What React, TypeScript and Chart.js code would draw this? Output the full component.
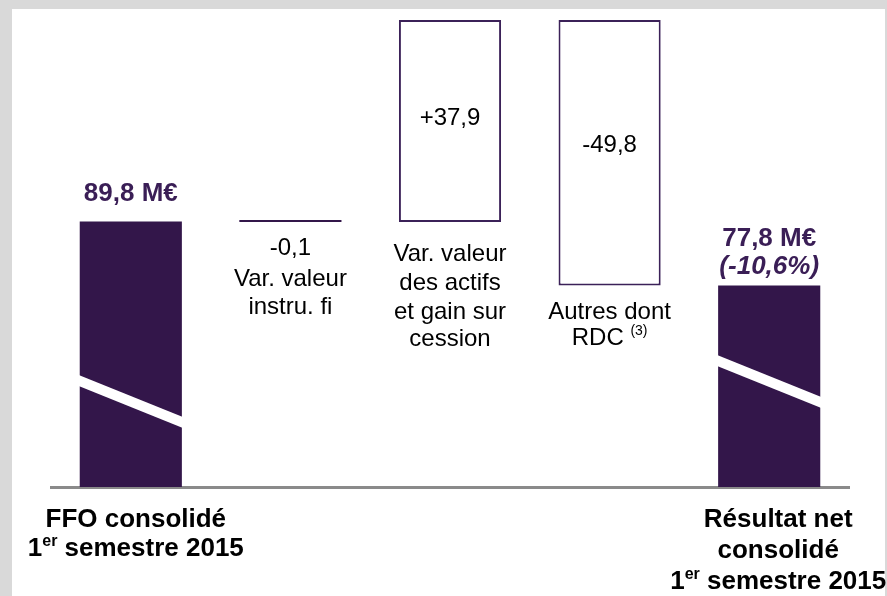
import React, { useEffect, useRef } from "react";
import { Chart, registerables } from "chart.js";

Chart.register(...registerables);

// ---------- data ----------
const categories = [
  "FFO consolidé 1er semestre 2015",
  "Var. valeur instru. fi",
  "Var. valeur des actifs et gain sur cession",
  "Autres dont RDC (3)",
  "Résultat net consolidé 1er semestre 2015",
];
const steps = [89.8, -0.1, 37.9, -49.8, 77.8];
const isTotal = [true, false, false, false, true];
const valueLabels = ["89,8 M€", "-0,1", "+37,9", "-49,8", "77,8 M€"];
const valueNotes = ["", "", "", "", "(-10,6%)"];
const categoryLines = [
  ["FFO consolidé", "1^{er} semestre 2015"],
  ["Var. valeur", "instru. fi"],
  ["Var. valeur", "des actifs", "et gain sur", "cession"],
  ["Autres dont", "RDC ^{(3)}"],
  ["Résultat net", "consolidé", "1^{er} semestre 2015"],
];
const axisMin = 40;
const axisMax = 130;

// ---------- styles ----------
const FAMILY = "'Liberation Sans', Arial, sans-serif";
const PURPLE = "#33164a";
const PURPLE_TEXT = "#3a1e56";
const BORDER = "#3b2158";
const TEXT_SHIFT = 2;

// label placement (pixel offsets relative to the bar geometry)
const valueLayout = [
  { anchor: "top", dy: -30, bold: true, size: 26, color: PURPLE_TEXT },
  { anchor: "top", dy: 26, bold: false, size: 24, color: "#000" },
  { anchor: "top", dy: 96, bold: false, size: 24, color: "#000" },
  { anchor: "top", dy: 123, bold: false, size: 24, color: "#000" },
  { anchor: "top", dy: -49, bold: true, size: 26, color: PURPLE_TEXT },
];
const categoryLayout = [
  { anchor: "axis", ys: [31, 60], dx: 5, bold: true, size: 26 },
  { anchor: "bottom", ys: [55, 83], dx: 0, bold: false, size: 24 },
  { anchor: "bottom", ys: [30, 59, 88, 115], dx: 0, bold: false, size: 24 },
  { anchor: "bottom", ys: [25, 51], dx: 0, bold: false, size: 24 },
  { anchor: "axis", ys: [31, 62, 93], dx: 9, bold: true, size: 26 },
];
const breakMarks = [
  { index: 0, left: 112, right: 70, thickness: 11 },
  { index: 4, left: 132, right: 90, thickness: 11 },
];

// ---------- helpers ----------
function buildRanges(): [number, number][] {
  let run = 0;
  return steps.map((v, i) => {
    if (isTotal[i]) {
      run = v;
      return [0, v] as [number, number];
    }
    const start = run;
    run = Math.round((run + v) * 10) / 10;
    return [Math.min(start, run), Math.max(start, run)] as [number, number];
  });
}

function fontStr(size: number, bold: boolean, italic = false) {
  return `${italic ? "italic " : ""}${bold ? "bold " : ""}${size}px ${FAMILY}`;
}

function parseRich(text: string) {
  const parts: { t: string; sup: boolean }[] = [];
  const re = /\^\{([^}]*)\}/g;
  let last = 0;
  let m: RegExpExecArray | null;
  while ((m = re.exec(text))) {
    if (m.index > last) parts.push({ t: text.slice(last, m.index), sup: false });
    parts.push({ t: m[1], sup: true });
    last = m.index + m[0].length;
  }
  if (last < text.length) parts.push({ t: text.slice(last), sup: false });
  return parts;
}

function drawRich(
  ctx: CanvasRenderingContext2D,
  text: string,
  cx: number,
  cy: number,
  size: number,
  bold: boolean,
  color: string,
  italic = false
) {
  const parts = parseRich(text);
  const supSize = Math.round(size * 0.6);
  let total = 0;
  const widths = parts.map((p) => {
    ctx.font = p.sup ? fontStr(supSize, bold && !p.t.startsWith("("), italic) : fontStr(size, bold, italic);
    const w = ctx.measureText(p.t).width;
    total += w;
    return w;
  });
  let x = cx - total / 2;
  const y = cy + TEXT_SHIFT;
  ctx.fillStyle = color;
  ctx.textAlign = "left";
  ctx.textBaseline = "middle";
  parts.forEach((p, i) => {
    if (p.sup) {
      ctx.font = fontStr(supSize, bold && !p.t.startsWith("("), italic);
      ctx.fillText(p.t, x, y - size * 0.3);
    } else {
      ctx.font = fontStr(size, bold, italic);
      ctx.fillText(p.t, x, y);
    }
    x += widths[i];
  });
}

const breakPlugin = {
  id: "breakMarks",
  afterDatasetsDraw(chart: any) {
    const ctx = chart.ctx as CanvasRenderingContext2D;
    const meta = chart.getDatasetMeta(0);
    const bottom = chart.chartArea.bottom;
    ctx.save();
    ctx.fillStyle = "#ffffff";
    breakMarks.forEach((b) => {
      const el = meta.data[b.index];
      if (!el) return;
      const l = el.x - el.width / 2 - 1;
      const r = el.x + el.width / 2 + 1;
      ctx.beginPath();
      ctx.moveTo(l, bottom - b.left);
      ctx.lineTo(r, bottom - b.right);
      ctx.lineTo(r, bottom - b.right + b.thickness);
      ctx.lineTo(l, bottom - b.left + b.thickness);
      ctx.closePath();
      ctx.fill();
    });
    ctx.restore();
  },
};

const labelPlugin = {
  id: "waterfallLabels",
  afterDraw(chart: any) {
    const ctx = chart.ctx as CanvasRenderingContext2D;
    const meta = chart.getDatasetMeta(0);
    const area = chart.chartArea;
    ctx.save();
    meta.data.forEach((el: any, i: number) => {
      const top = Math.min(el.y, el.base);
      const bot = Math.min(Math.max(el.y, el.base), area.bottom);
      const vl = valueLayout[i];
      const vy = (vl.anchor === "top" ? top : bot) + vl.dy;
      drawRich(ctx, valueLabels[i], el.x, vy, vl.size, vl.bold, vl.color);
      if (valueNotes[i]) {
        drawRich(ctx, valueNotes[i], el.x, vy + 28, vl.size, vl.bold, vl.color, true);
      }
      const cl = categoryLayout[i];
      const base = cl.anchor === "axis" ? area.bottom : bot;
      categoryLines[i].forEach((line, j) => {
        drawRich(ctx, line, el.x + cl.dx, base + cl.ys[j], cl.size, cl.bold, "#000");
      });
    });
    ctx.restore();
  },
};

export default function App() {
  const canvasRef = useRef<HTMLCanvasElement | null>(null);

  useEffect(() => {
    if (!canvasRef.current) return;
    const ranges = buildRanges();
    const chart = new Chart(canvasRef.current, {
      type: "bar",
      data: {
        labels: categories,
        datasets: [
          {
            data: ranges as any,
            backgroundColor: isTotal.map((t, i) => (t || i === 1 ? PURPLE : "#ffffff")),
            borderColor: BORDER,
            borderWidth: isTotal.map((t, i) => (t || i === 1 ? 0 : 2)),
            borderSkipped: false,
            barPercentage: 0.64,
            categoryPercentage: 1,
            minBarLength: 2,
            clip: 0 as any,
          },
        ],
      },
      options: {
        responsive: false,
        animation: false,
        events: [],
        layout: { padding: { left: 51, right: 38, top: 7.2, bottom: 109 } },
        plugins: {
          legend: { display: false },
          tooltip: { enabled: false },
          title: { display: false },
        },
        scales: {
          x: {
            display: true,
            z: 1,
            grid: { display: false, drawTicks: false, tickLength: 0 },
            ticks: { display: false, padding: 0 },
            border: { display: true, color: "#8a8a8a", width: 3 },
          },
          y: {
            display: false,
            min: axisMin,
            max: axisMax,
          },
        },
      },
      plugins: [breakPlugin, labelPlugin],
    });
    return () => chart.destroy();
  }, []);

  return (
    <div
      style={{
        position: "fixed",
        left: 0,
        top: 0,
        width: 887,
        height: 596,
        background: "#d9d9d9",
        overflow: "hidden",
      }}
    >
      <div
        style={{
          position: "absolute",
          left: 12,
          top: 9,
          width: 873,
          height: 587,
          background: "#ffffff",
        }}
      />
      <canvas
        ref={canvasRef}
        width={887}
        height={596}
        style={{ position: "absolute", left: 0, top: 0, width: 887, height: 596, display: "block" }}
      />
    </div>
  );
}
